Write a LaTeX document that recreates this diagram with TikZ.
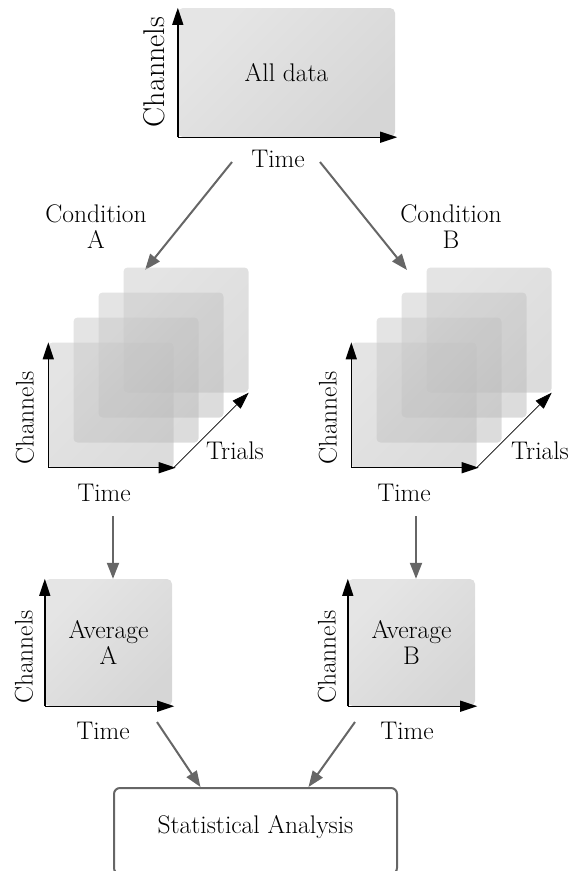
\documentclass[tikz,border=0pt]{standalone}
\usetikzlibrary{arrows.meta,calc}

\begin{document}
\begin{tikzpicture}[x=1pt, y=-1pt, font=\fontsize{25.5}{26}\selectfont,
  panel/.style={rectangle, rounded corners=5pt, inner sep=0pt,
    top color=black!10, bottom color=black!16, shading angle=45},
  trial/.style={rectangle, rounded corners=4pt, inner sep=0pt, minimum size=125pt,
    top color=black!21, bottom color=black!27, shading angle=45, opacity=0.5},
  axis/.style={-{Triangle[length=17pt,width=11pt]}, line width=1.4pt},
  flow/.style={-{Triangle[length=16pt,width=12pt]}, draw=black!60, line width=2pt}]

\useasboundingbox (0,0) rectangle (571,871);

% All data
\node[panel, minimum width=217pt, minimum height=129pt] (alldata) at (286.5,72.5) {All data};
\draw[axis] (alldata.south west) -- (alldata.north west);
\draw[axis] (alldata.south west) -- ([xshift=2pt]alldata.south east);
\node[rotate=90, font=\fontsize{30}{30}\selectfont] (chtop) at (154,72) {Channels};
\node (timetop) at (278,159) {Time};

% Conditions
\node[align=center] (condA) at (96,227) {Condition\\A};
\node[align=center] (condB) at (451,227) {Condition\\B};
\coordinate (outA) at (232,162);
\coordinate (inA) at (145,270);
\coordinate (outB) at (320,162);
\coordinate (inB) at (407,270);
\draw[flow] (outA) -- (inA);
\draw[flow] (outB) -- (inB);

% Trial stacks
\foreach \i in {3,2,1,0} {
  \node[trial] (trA\i) at ({111+25*\i},{405-25*\i}) {};
  \node[trial] (trB\i) at ({414+25*\i},{405-25*\i}) {};
}
\draw[axis] (trA0.south west) -- (trA0.north west);
\draw[axis] (trA0.south west) -- ([xshift=2pt]trA0.south east);
\draw[-{Triangle[length=17pt,width=11pt]}, line width=0.8pt] (trA0.south east) -- (trA3.south east);
\draw[axis] (trB0.south west) -- (trB0.north west);
\draw[axis] (trB0.south west) -- ([xshift=2pt]trB0.south east);
\draw[-{Triangle[length=17pt,width=11pt]}, line width=0.8pt] (trB0.south east) -- (trB3.south east);

\node[rotate=90] (chA) at (25,418) {Channels};
\node[rotate=90] (chB) at (328,418) {Channels};
\node (timeA) at (104,493) {Time};
\node (timeB) at (404,493) {Time};
\node (trialsA) at (235,451) {Trials};
\node (trialsB) at (540,451) {Trials};

% Averages
\node[panel, minimum size=127pt, align=center] (avgA) at (108.5,642.5) {Average\\A};
\node[panel, minimum size=127pt, align=center] (avgB) at (411.5,642.5) {Average\\B};
\draw[axis] (avgA.south west) -- (avgA.north west);
\draw[axis] (avgA.south west) -- ([xshift=2pt]avgA.south east);
\draw[axis] (avgB.south west) -- (avgB.north west);
\draw[axis] (avgB.south west) -- ([xshift=2pt]avgB.south east);
\node[rotate=90] (chavgA) at (24,657) {Channels};
\node[rotate=90] (chavgB) at (327,657) {Channels};
\node (timeavgA) at (103,731) {Time};
\node (timeavgB) at (407,731) {Time};

\coordinate (downA) at (113,516);
\coordinate (downB) at (416,516);
\draw[flow] (downA) -- (downA |- avgA.north);
\draw[flow] (downB) -- (downB |- avgB.north);

% Statistical analysis
\node[draw=black!60, line width=2pt, rounded corners=6pt, anchor=north, text depth=13pt,
  minimum width=283pt, minimum height=86pt] (stats) at (255.5,787) {Statistical Analysis};
\coordinate (sumA) at (157,722);
\coordinate (sumB) at (355,722);
\draw[flow] (sumA) -- ($(stats.north)+(-55,0)$);
\draw[flow] (sumB) -- ($(stats.north)+(53,0)$);

\end{tikzpicture}
\end{document}
